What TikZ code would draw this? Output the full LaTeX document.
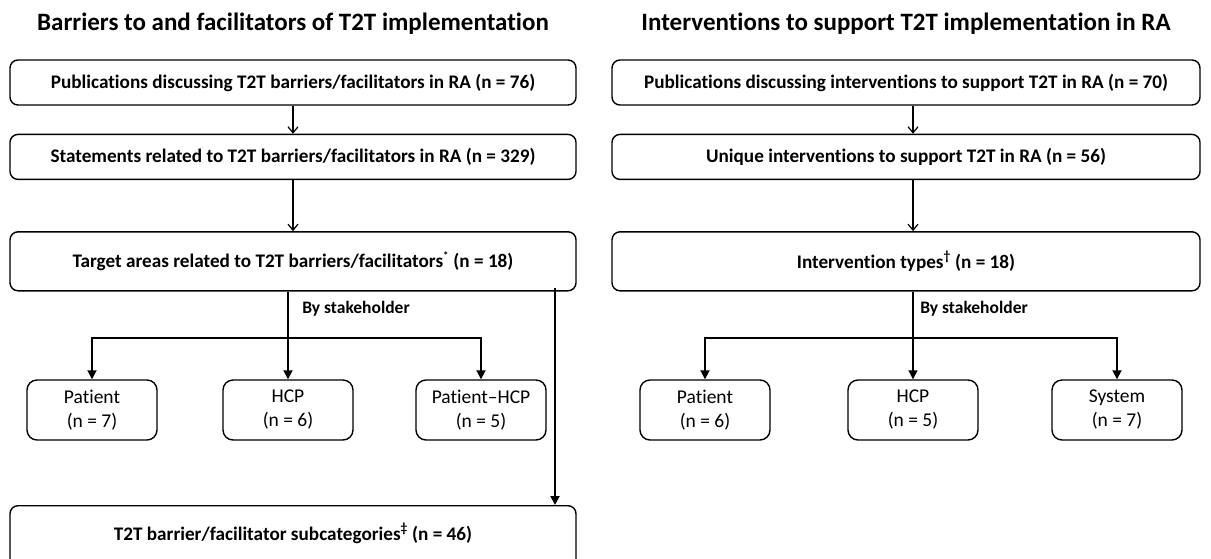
\documentclass[tikz,border=0pt]{standalone}
\usepackage{fontspec}
\setmainfont{Carlito}[Ligatures={NoCommon,NoContextual}]
\usetikzlibrary{arrows.meta,positioning}

\begin{document}
\begin{tikzpicture}[
  x=1pt, y=-1pt,
  ttl/.style={font=\bfseries\fontsize{25}{30}\selectfont},
  bigbox/.style={draw, rounded corners=8pt, line width=1.4pt, align=center,
    font=\bfseries\fontsize{19.2}{23}\selectfont, minimum height=45pt,
    inner sep=3pt},
  smallbox/.style={draw, rounded corners=10pt, line width=1.4pt, align=center,
    font=\fontsize{19.5}{24}\selectfont, minimum width=130pt,
    minimum height=60pt},
  lbl/.style={font=\bfseries\fontsize{17.5}{20}\selectfont},
  openar/.style={-{Straight Barb[length=6pt, width=10pt]}, line width=1.2pt},
  fillar/.style={-{Triangle[length=9pt, width=9pt]}, line width=1.8pt},
  thinline/.style={line width=1.1pt}
]
\clip (0,0) rectangle (1211,558);

% left column: barriers and facilitators
\node[ttl] (ltitle) at (293,24) {Barriers to and facilitators of T2T implementation};
\node[bigbox, minimum width=566pt] (lpub) at (293,82.5)
  {Publications discussing T2T barriers/facilitators in RA (n = 76)};
\node[bigbox, minimum width=566pt, below=28pt of lpub] (lstat)
  {Statements related to T2T barriers/facilitators in RA (n = 329)};
\node[bigbox, minimum width=566pt, minimum height=59pt, below=51pt of lstat] (ltarget)
  {Target areas related to T2T barriers/facilitators\textsuperscript{\fontsize{11}{11}\selectfont *} (n = 18)};
\node[lbl] (lby) at (356,309) {By stakeholder};

\node[smallbox] (lpat) at (92,410) {Patient\\(n = 7)};
\node[smallbox] (lhcp) at (288,410) {HCP\\(n = 6)};
\node[smallbox] (lboth) at (481,410) {Patient--HCP\\(n = 5)};

\node[bigbox, minimum width=566pt, minimum height=64pt, text depth=12pt,
  anchor=north] (lsub) at (293,505)
  {T2T barrier/facilitator subcategories\textsuperscript{‡} (n = 46)};

\coordinate (lbar) at (0,338);
\coordinate (lside) at (555,288);

\draw[openar] (lpub) -- (lstat);
\draw[openar] (lstat) -- (ltarget);
\draw[thinline] (ltarget.south -| lhcp) -- (lbar -| lhcp);
\draw[fillar] (lbar -| lhcp) -- (lhcp);
\draw[fillar] (lbar -| lhcp) -| (lpat);
\draw[fillar] (lbar -| lhcp) -| (lboth);
\draw[fillar] (lside) -- (lside |- lsub.north);

% right column: interventions
\node[ttl] (rtitle) at (906,24) {Interventions to support T2T implementation in RA};
\node[bigbox, minimum width=588pt] (rpub) at (906,82.5)
  {Publications discussing interventions to support T2T in RA (n = 70)};
\node[bigbox, minimum width=588pt, below=28pt of rpub] (runiq)
  {Unique interventions to support T2T in RA (n = 56)};
\node[bigbox, minimum width=588pt, minimum height=59pt, below=51pt of runiq] (rtype)
  {Intervention types\textsuperscript{†} (n = 18)};
\node[lbl] (rby) at (974,309) {By stakeholder};

\node[smallbox] (rpat) at (705,410) {Patient\\(n = 6)};
\node[smallbox] (rhcp) at (913,410) {HCP\\(n = 5)};
\node[smallbox] (rsys) at (1117,410) {System\\(n = 7)};

\coordinate (rbar) at (0,338);

\draw[openar] (rpub.south -| rhcp) -- (runiq.north -| rhcp);
\draw[openar] (runiq.south -| rhcp) -- (rtype.north -| rhcp);
\draw[thinline, -{Triangle[length=9pt, width=9pt]}] (rtype.south -| rhcp) -- (rhcp);
\draw[fillar] (rbar -| rhcp) -| (rpat);
\draw[fillar] (rbar -| rhcp) -| (rsys);
\end{tikzpicture}
\end{document}
